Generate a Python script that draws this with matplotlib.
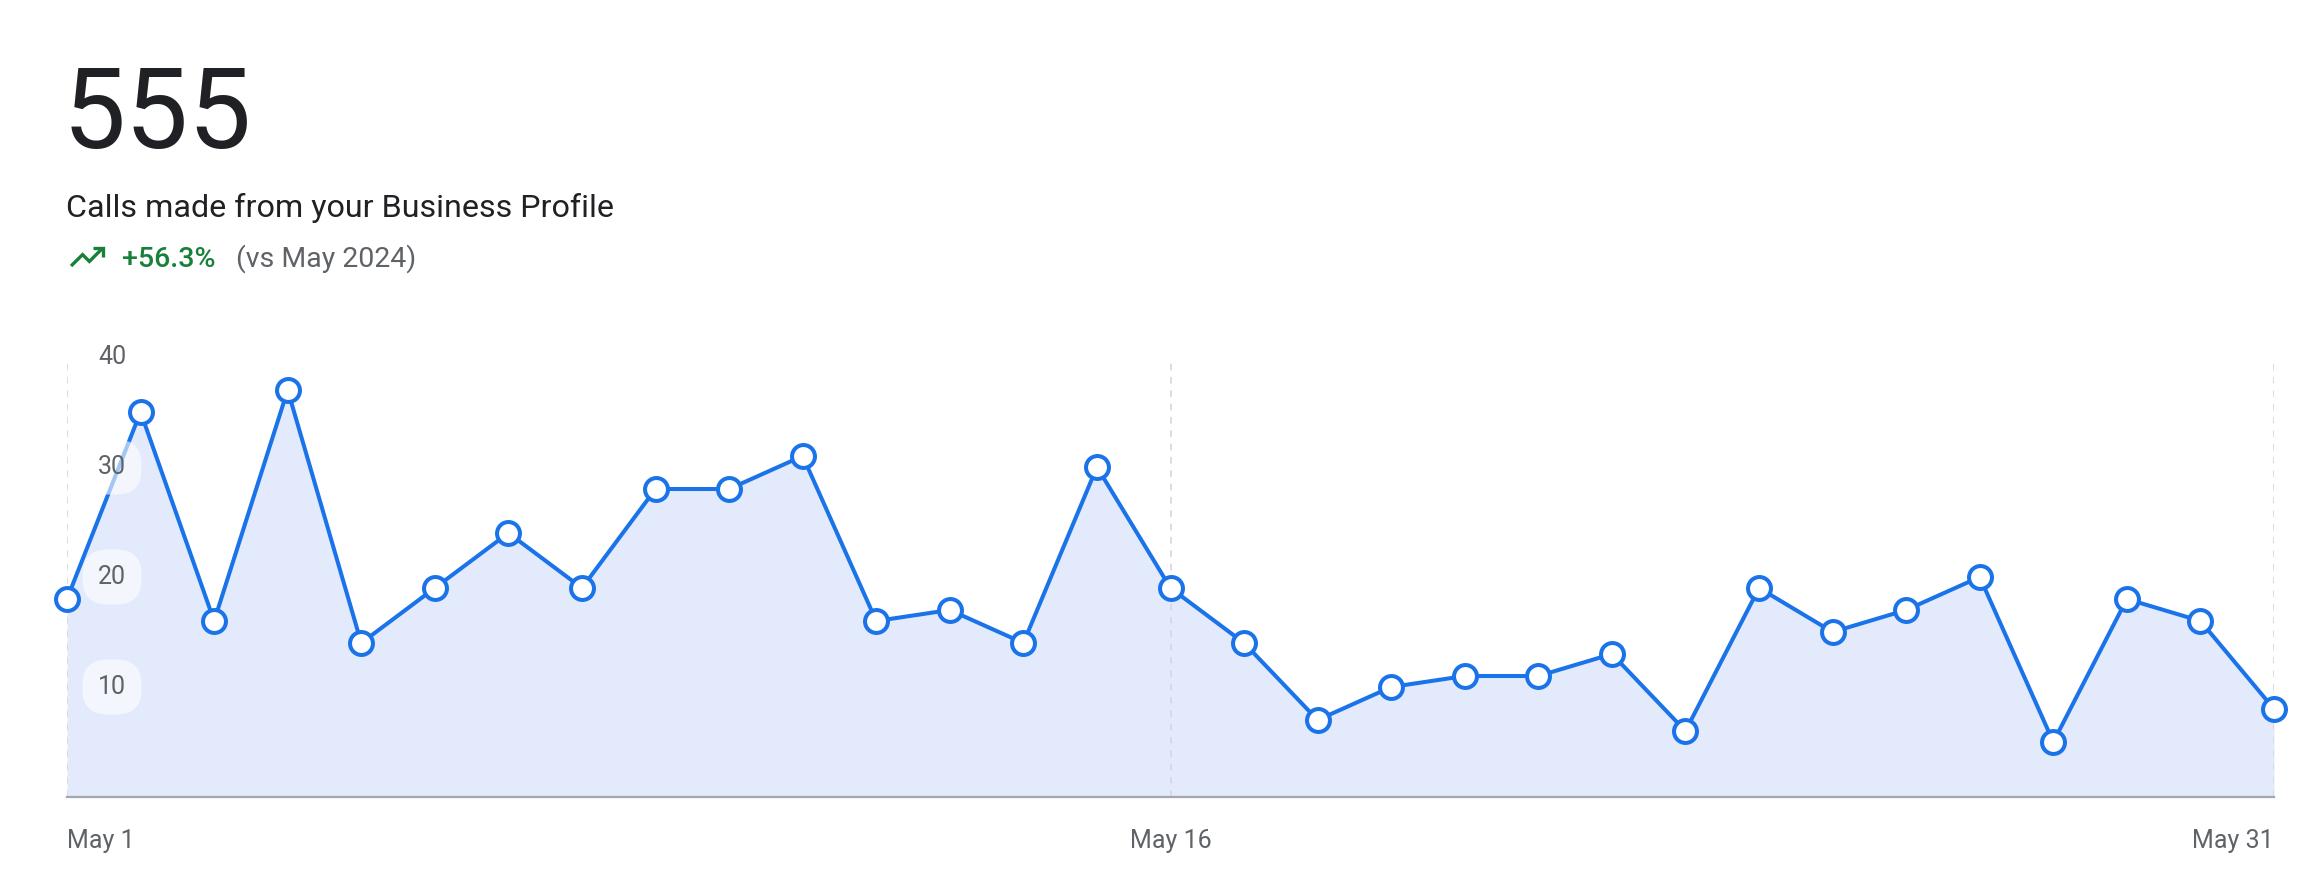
import matplotlib.pyplot as plt
from matplotlib.lines import Line2D

# data: daily calls, May 2025
days = list(range(1, 32))
calls = [18, 35, 16, 37, 14, 19, 24, 19, 28, 28, 31, 16, 17, 14, 30,
         19, 14, 7, 10, 11, 11, 13, 6, 19, 15, 17, 20, 5, 18, 16, 8]
y_ticks = [10, 20, 30, 40]
x_ticks = [1, 16, 31]
x_labels = ['May 1', 'May 16', 'May 31']

total = '555'
subtitle = 'Calls made from your Business Profile'
change = '+56.3%'
compare = '(vs May 2024)'

W, H = 2320, 874
plt.rcParams['font.family'] = ['Roboto', 'DejaVu Sans']

fig = plt.figure(figsize=(W / 100, H / 100), dpi=100)
fig.patch.set_facecolor('white')


def fx(px):
    return px / W


def fy(py):
    return 1 - py / H


# header
fig.text(fx(63), fy(148), total, fontsize=81, color='#202124', va='baseline')
fig.text(fx(66), fy(217), subtitle, fontsize=23.2, color='#202124', va='baseline')
fig.text(fx(122), fy(267), change, fontsize=20.5, color='#188038', va='baseline',
         fontweight='medium')
fig.text(fx(236), fy(267), compare, fontsize=20.5, color='#5f6368', va='baseline')

# trending-up icon
s, ox, oy = 1.7, 70, 257
def icon_pts(pts):
    xs = [fx(ox + (u - 2) * s) for u, v in pts]
    ys = [fy(oy + (v - 12) * s) for u, v in pts]
    return xs, ys

for pts in ([(2.6, 17.3), (9.4, 10.6), (13.4, 14.6), (21.2, 6.8)],
            [(15.8, 6.6), (21.4, 6.6), (21.4, 12.2)]):
    xs, ys = icon_pts(pts)
    fig.add_artist(Line2D(xs, ys, transform=fig.transFigure, color='#188038',
                          lw=2.4, solid_joinstyle='miter', solid_capstyle='butt'))

# chart
left, right, bottom, top = 67, 2274, 797, 357
ax = fig.add_axes([fx(left), 1 - bottom / H, (right - left) / W, (bottom - top) / H])
ax.set_xlim(1, 31)
ax.set_ylim(0, 40)

ax.fill_between(days, calls, 0, color='#e2eafc', lw=0, zorder=1)
for d in x_ticks:
    ax.axvline(d, color='#d5d7db', lw=1.2, ls=(0, (4, 4)), zorder=2)
ax.plot(days, calls, color='#1a73e8', lw=2.9, zorder=3,
        marker='o', ms=16.5, mfc='white', mec='#1a73e8', mew=2.9, clip_on=False)

for t in y_ticks:
    ax.text(0.0204, t, str(t), transform=ax.get_yaxis_transform(), ha='center',
            va='center', fontsize=18, color='#5f6368', zorder=4,
            bbox=dict(boxstyle='round,pad=0.62,rounding_size=1.0', fc='white',
                      ec='none', alpha=0.6))

ax.set_xticks([])
ax.set_yticks([])
for sp in ['top', 'left', 'right']:
    ax.spines[sp].set_visible(False)
ax.spines['bottom'].set_color('#a3a7ad')
ax.spines['bottom'].set_linewidth(1.6)
ax.set_facecolor('none')

aligns = ['left', 'center', 'right']
for d, lab, ha in zip(x_ticks, x_labels, aligns):
    ax.text(d, -4.0, lab, ha=ha, va='center', fontsize=18, color='#5f6368',
            transform=ax.transData)

fig.savefig('out.png', dpi=100, facecolor='white')
